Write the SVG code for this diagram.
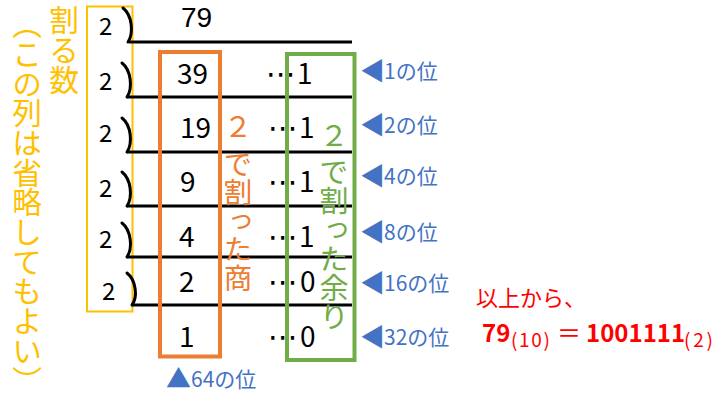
<svg xmlns="http://www.w3.org/2000/svg" width="716" height="394" viewBox="0 0 716 394">
<style>
text{font-family:"Noto Sans CJK JP","Noto Sans",sans-serif;}
.v{writing-mode:vertical-rl;}
.yl{fill:#FFC000;}
.or{fill:#ED7D31;}
.gr{fill:#70AD47;}
.bl{fill:#4472C4;font-size:21px;}
.tri{font-size:25px;}
.rd{fill:#FF0000;}
.num{fill:#000;font-size:28px;}
.dv{fill:#000;font-size:24px;}
.dots{font-family:"DejaVu Sans",sans-serif;font-size:30px;}
.ln{stroke:#000;stroke-width:3;fill:none;}
.br{stroke:#000;stroke-width:3;fill:none;stroke-linecap:round;}
</style>
<rect id="divisor-box" x="87" y="6.5" width="45.5" height="305" fill="none" stroke="#FFC000" stroke-width="2"/>
<g id="connectors">
<line class="ln" x1="129" y1="42" x2="352" y2="42"/>
<line class="ln" x1="127" y1="97" x2="352" y2="97"/>
<line class="ln" x1="127" y1="152" x2="352" y2="152"/>
<line class="ln" x1="127" y1="206" x2="352" y2="206"/>
<line class="ln" x1="127" y1="257" x2="352" y2="257"/>
<line class="ln" x1="132" y1="305" x2="352" y2="305"/>
<path class="br" d="M123,8 C132,15 134,33 128,42"/>
<path class="br" d="M122,63 C131,70 133,88 127,97"/>
<path class="br" d="M122,118 C131,125 133,143 127,152"/>
<path class="br" d="M122,172 C131,179 133,197 127,206"/>
<path class="br" d="M122,223 C131,230 133,248 127,257"/>
<path class="br" d="M127,273 C136,280 138,297 132,305"/>
</g>
<g id="divisors">
<text class="dv" x="99" y="35">2</text>
<text class="dv" x="99" y="90">2</text>
<text class="dv" x="99" y="142">2</text>
<text class="dv" x="99" y="197">2</text>
<text class="dv" x="99" y="248">2</text>
<text class="dv" x="102" y="300">2</text>
</g>
<g id="quotients">
<text class="num" x="181" y="27" style="font-family:'Liberation Sans',sans-serif">79</text>
<text class="num" x="177" y="84">39</text>
<text class="num" x="180" y="138">19</text>
<text class="num" x="180" y="192">9</text>
<text class="num" x="179" y="247">4</text>
<text class="num" x="179" y="292">2</text>
<text class="num" x="179" y="347">1</text>
</g>
<g id="remainders">
<text class="num" y="84"><tspan class="dots" x="266">⋯</tspan><tspan x="297">1</tspan></text>
<text class="num" y="138"><tspan class="dots" x="268">⋯</tspan><tspan x="299">1</tspan></text>
<text class="num" y="192"><tspan class="dots" x="268">⋯</tspan><tspan x="299">1</tspan></text>
<text class="num" y="247"><tspan class="dots" x="268">⋯</tspan><tspan x="299">1</tspan></text>
<text class="num" y="292"><tspan class="dots" x="268">⋯</tspan><tspan x="300">0</tspan></text>
<text class="num" y="347"><tspan class="dots" x="268">⋯</tspan><tspan x="300">0</tspan></text>
</g>
<g id="quotient-box">
<rect x="160" y="52" width="60" height="304.5" fill="none" stroke="#ED7D31" stroke-width="4"/>
<text class="v or" x="238" y="111.7 149.75" font-size="28.5">２で割った商</text>
</g>
<g id="remainder-box">
<rect x="287" y="54" width="67.5" height="306" fill="none" stroke="#70AD47" stroke-width="4"/>
<text class="v gr" x="334" y="121 157" font-size="29">２で割った余り</text>
</g>
<g id="divisor-label">
<text class="v yl" x="64" y="5" font-size="29.7">割る数</text>
<text class="v yl" x="27" y="9" font-size="29.7">（この列は省略してもよい）</text>
</g>
<g id="place-labels">
<text class="bl" y="79"><tspan class="tri" x="360" y="80">◀</tspan><tspan x="384" y="79">1の位</tspan></text>
<text class="bl" y="133"><tspan class="tri" x="360" y="134">◀</tspan><tspan x="384" y="133">2の位</tspan></text>
<text class="bl" y="184"><tspan class="tri" x="360" y="185">◀</tspan><tspan x="384" y="184">4の位</tspan></text>
<text class="bl" y="240"><tspan class="tri" x="360" y="241">◀</tspan><tspan x="384" y="240">8の位</tspan></text>
<text class="bl" y="291"><tspan class="tri" x="360" y="292">◀</tspan><tspan x="384" y="291">16の位</tspan></text>
<text class="bl" y="345"><tspan class="tri" x="360" y="346">◀</tspan><tspan x="384" y="345">32の位</tspan></text>
<text class="bl" y="387"><tspan class="tri" x="166" y="388">▲</tspan><tspan x="191" y="387">64の位</tspan></text>
</g>
<g id="result">
<text class="rd" x="476" y="306" font-size="22">以上から、</text>
<text class="rd" font-weight="bold" font-size="24" y="342"><tspan x="482">79</tspan><tspan x="511" y="347" font-size="19" font-weight="normal" textLength="39">(10)</tspan><tspan x="557" y="342" font-weight="normal">＝</tspan><tspan x="586" y="342">1001111</tspan><tspan x="684" y="347" font-size="19" font-weight="normal" textLength="29">(2)</tspan></text>
</g>
</svg>
